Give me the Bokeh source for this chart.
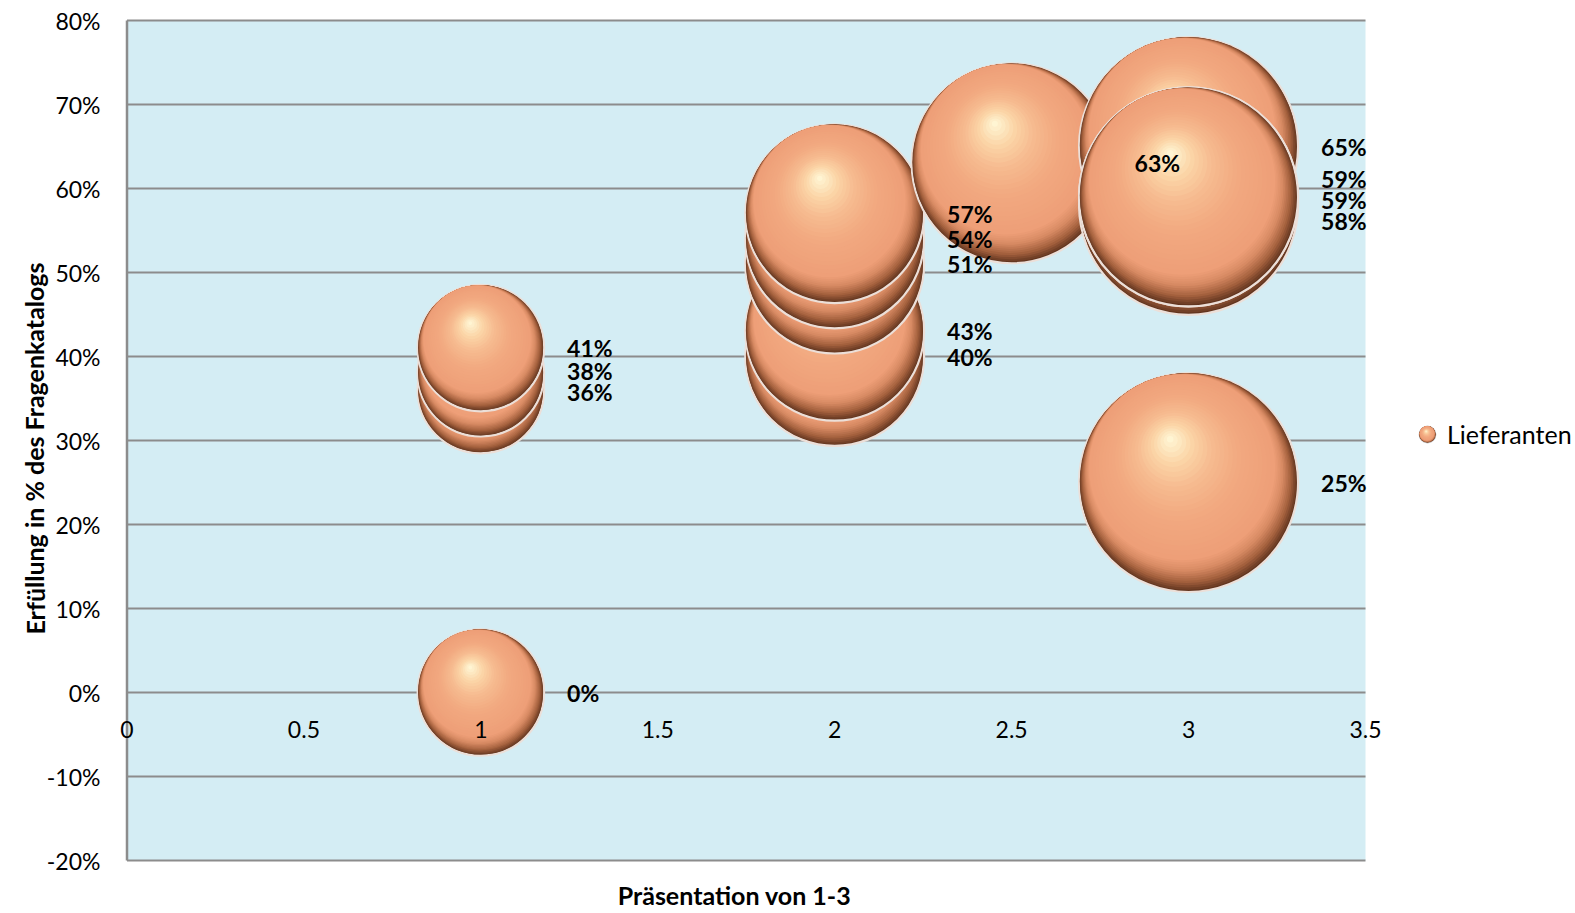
import math
from bokeh.plotting import figure
from bokeh.models import (ColumnDataSource, LabelSet, Legend, LegendItem, Range1d)
from bokeh.core.properties import value
from bokeh.embed import file_html
from bokeh.resources import INLINE

# ---------------- data ----------------
presentation = [1, 1, 1, 1, 2, 2, 2, 2, 2, 2.5, 3, 3, 3, 3, 3]
fulfilment = [0, 36, 38, 41, 40, 43, 51, 54, 57, 63, 25, 65, 58, 59, 59]
bubble_size = [1, 1, 1, 1, 2, 2, 2, 2, 2, 2.5, 3, 3, 3, 3, 3]
series_name = "Lieferanten"
x_ticks = [0, 0.5, 1, 1.5, 2, 2.5, 3, 3.5]
x_tick_labels = ["0", "0.5", "1", "1.5", "2", "2.5", "3", "3.5"]
y_ticks = [-20, -10, 0, 10, 20, 30, 40, 50, 60, 70, 80]
y_tick_labels = ["-20%", "-10%", "0%", "10%", "20%", "30%", "40%", "50%", "60%", "70%", "80%"]
x_title = "Präsentation von 1-3"
y_title = "Erfüllung in % des Fragenkatalogs"

# ---------------- geometry / style ----------------
W, H = 1575, 913
X_RANGE = (0, 3.5)
Y_RANGE = (-20, 80)
AREA_L, AREA_T, AREA_W, AREA_H = 126.5, 20, 1238.5, 840   # plot area inside the canvas (px)
PX_X = AREA_W / (X_RANGE[1] - X_RANGE[0])
PX_Y = AREA_H / (Y_RANGE[1] - Y_RANGE[0])
x_lo = X_RANGE[0] - AREA_L / PX_X
x_hi = x_lo + W / PX_X
y_hi = Y_RANGE[1] + AREA_T / PX_Y
y_lo = y_hi - H / PX_Y


def cx(px):   # canvas px (from left) -> data x
    return x_lo + px / PX_X


def cy(py):   # canvas px (from top) -> data y
    return y_hi - py / PX_Y


R_MAX = 109.5
LABEL_GAP = 23
FONT = "Lato"
BG = "#d4edf4"
GRID = "#8c8c8c"
RIM = "#ecdfd8"


def hex2rgb(h):
    h = h.lstrip("#")
    return tuple(int(h[i:i + 2], 16) for i in (0, 2, 4))


def interp(stops, s):
    for (p0, c0), (p1, c1) in zip(stops[:-1], stops[1:]):
        if s <= p1:
            f = 0 if p1 == p0 else (s - p0) / (p1 - p0)
            a, b = hex2rgb(c0), hex2rgb(c1)
            return "#%02x%02x%02x" % tuple(int(round(a[k] + (b[k] - a[k]) * f)) for k in range(3))
    return stops[-1][1]


STOPS_A = [(0, "#62351f"), (0.3, "#a6623f"), (0.65, "#d88b64"), (1, "#ee9f78")]
STOPS_B = [(0, "#ee9f78"), (0.35, "#f2a980"), (0.6, "#f6bb90"), (0.8, "#fbd5a7"), (1, "#fff5d3")]
UX, UY = -0.39, 0.92  # direction of highlight (screen, y up)
NA, NB = 14, 24
OFF_A, OFF_B, R_END = 0.15, 0.43, 0.03


def sphere_layers(r):
    """(dx_px, dy_px, radius_px, colour, rim_alpha) from the outside in."""
    out = [(0.0, 0.0, r, STOPS_A[0][1], 1.0)]
    for k in range(1, NA + 1):
        s = k / NA
        off = OFF_A * r * s
        out.append((off * UX, off * UY, r - off, interp(STOPS_A, s), 0.0))
    for k in range(1, NB + 1):
        s = k / NB
        off = (OFF_A + (OFF_B - OFF_A) * s) * r
        rad = (1 - OFF_A) * r + (R_END * r - (1 - OFF_A) * r) * s
        out.append((off * UX, off * UY, rad, interp(STOPS_B, s), 0.0))
    return out


max_size = max(bubble_size)
radii = [R_MAX * math.sqrt(s / max_size) for s in bubble_size]

cols = dict(x=[], y=[], r=[], c=[], la=[], lw=[])
for xv, yv, r in zip(presentation, fulfilment, radii):
    for dx, dy, rad, col, la in sphere_layers(r):
        cols["x"].append(xv + dx / PX_X)
        cols["y"].append(yv + dy / PX_Y)
        cols["r"].append(rad)
        cols["c"].append(col)
        cols["la"].append(la)
        cols["lw"].append(2.2 if la else 0)
bubble_src = ColumnDataSource(cols)


# ---------------- label de-cluttering ----------------
def spread(ys, gap):
    order = sorted(range(len(ys)), key=lambda i: ys[i])
    clusters = [[i] for i in order]

    def place(cl):
        m = sum(ys[i] for i in cl) / len(cl)
        start = m - (len(cl) - 1) / 2 * gap
        return [start + k * gap for k in range(len(cl))]

    merged = True
    while merged:
        merged = False
        for j in range(len(clusters) - 1):
            a, b = place(clusters[j]), place(clusters[j + 1])
            if a[-1] + gap > b[0] + 0.01:
                clusters[j] = clusters[j] + clusters[j + 1]
                del clusters[j + 1]
                merged = True
                break
    out = [0] * len(ys)
    for cl in clusters:
        for i, p_ in zip(cl, place(cl)):
            out[i] = p_
    return out


lab = dict(x=[], y=[], t=[])
label_y = list(map(float, fulfilment))
for g in sorted(set(presentation)):
    idx = [i for i, xv in enumerate(presentation) if xv == g]
    ys_px = [(Y_RANGE[1] - fulfilment[i]) * PX_Y for i in idx]
    adj = spread(ys_px, 21)
    for i, a in zip(idx, adj):
        label_y[i] = Y_RANGE[1] - a / PX_Y
for i in range(len(presentation)):
    lab["x"].append(presentation[i] + (radii[i] + LABEL_GAP) / PX_X)
    lab["y"].append(label_y[i])
    lab["t"].append("%d%%" % fulfilment[i])
label_src = ColumnDataSource(lab)

xtick_src = ColumnDataSource(dict(x=x_ticks, y=[0 - 36.5 / PX_Y] * len(x_ticks), t=x_tick_labels))
ytick_src = ColumnDataSource(dict(x=[X_RANGE[0] - 26.5 / PX_X] * len(y_ticks), y=y_ticks, t=y_tick_labels))

# ---------------- figure (frame = whole canvas) ----------------
p = figure(width=W, height=H, output_backend="svg", toolbar_location=None,
           x_range=Range1d(x_lo, x_hi), y_range=Range1d(y_lo, y_hi),
           x_axis_location=None, y_axis_location=None,
           min_border_left=0, min_border_right=0, min_border_top=0, min_border_bottom=0)
p.background_fill_color = "white"
p.border_fill_color = "white"
p.outline_line_color = None
p.xgrid.visible = False
p.ygrid.visible = False

# plot area, gridlines, vertical axis line (from ranges / ticks)
p.quad(left=X_RANGE[0], right=X_RANGE[1], bottom=Y_RANGE[0], top=Y_RANGE[1],
       fill_color=BG, line_color=None)
p.segment(x0=[X_RANGE[0]] * len(y_ticks), x1=[X_RANGE[1]] * len(y_ticks), y0=y_ticks, y1=y_ticks,
          line_color=GRID, line_width=2)
p.segment(x0=[X_RANGE[0]], x1=[X_RANGE[0]], y0=[y_ticks[0]], y1=[y_ticks[-1]],
          line_color=GRID, line_width=2.5)

# bubbles
p.circle(x="x", y="y", radius="r", radius_units="screen", fill_color="c",
         line_color=RIM, line_alpha="la", line_width="lw", source=bubble_src)

# axis tick labels
p.add_layout(LabelSet(x="x", y="y", text="t", source=ytick_src, text_align="right",
                      text_baseline="middle", text_font=value(FONT), text_font_size="23px",
                      text_color="black"))
p.add_layout(LabelSet(x="x", y="y", text="t", source=xtick_src, text_align="center",
                      text_baseline="middle", text_font=value(FONT), text_font_size="23px",
                      text_color="black"))
# data labels
p.add_layout(LabelSet(x="x", y="y", text="t", source=label_src, text_align="left",
                      text_baseline="middle", text_font=value(FONT), text_font_size="23px",
                      text_font_style="bold", text_color="black"))
# axis titles
title_src = ColumnDataSource(dict(x=[cx(734), cx(34)], y=[cy(894), cy(448)],
                                  t=[x_title, y_title], a=[0, math.pi / 2]))
p.add_layout(LabelSet(x="x", y="y", text="t", angle="a", source=title_src, text_align="center",
                      text_baseline="middle", text_font=value(FONT), text_font_size="25px",
                      text_font_style="bold", text_color="black"))

# legend: sphere swatch + label
GLYPH = 40
ICON_PX = (1427, 434)
icon = dict(x=[], y=[], r=[], c=[], la=[], lw=[])
for dx, dy, rad, col, la in sphere_layers(8.3):
    icon["x"].append(cx(ICON_PX[0]) + dx / PX_X)
    icon["y"].append(cy(ICON_PX[1]) + dy / PX_Y)
    icon["r"].append(rad)
    icon["c"].append(col)
    icon["la"].append(la)
    icon["lw"].append(1.2 if la else 0)
p.circle(x="x", y="y", radius="r", radius_units="screen", fill_color="c",
         line_color="#c8c8c8", line_alpha="la", line_width="lw", source=ColumnDataSource(icon))

swatch = p.scatter(x=[float("nan")], y=[float("nan")], size=1, fill_alpha=0, line_alpha=0)
legend = Legend(items=[LegendItem(label=series_name, renderers=[swatch])],
                location=(ICON_PX[0] - GLYPH / 2, H - ICON_PX[1] - GLYPH / 2),
                glyph_width=GLYPH, glyph_height=GLYPH, label_standoff=-9, padding=0, margin=0,
                border_line_color=None, background_fill_alpha=0,
                label_text_font=FONT, label_text_font_size="25px", label_text_color="black")
p.add_layout(legend)

open("out.html", "w").write(file_html(p, INLINE))
